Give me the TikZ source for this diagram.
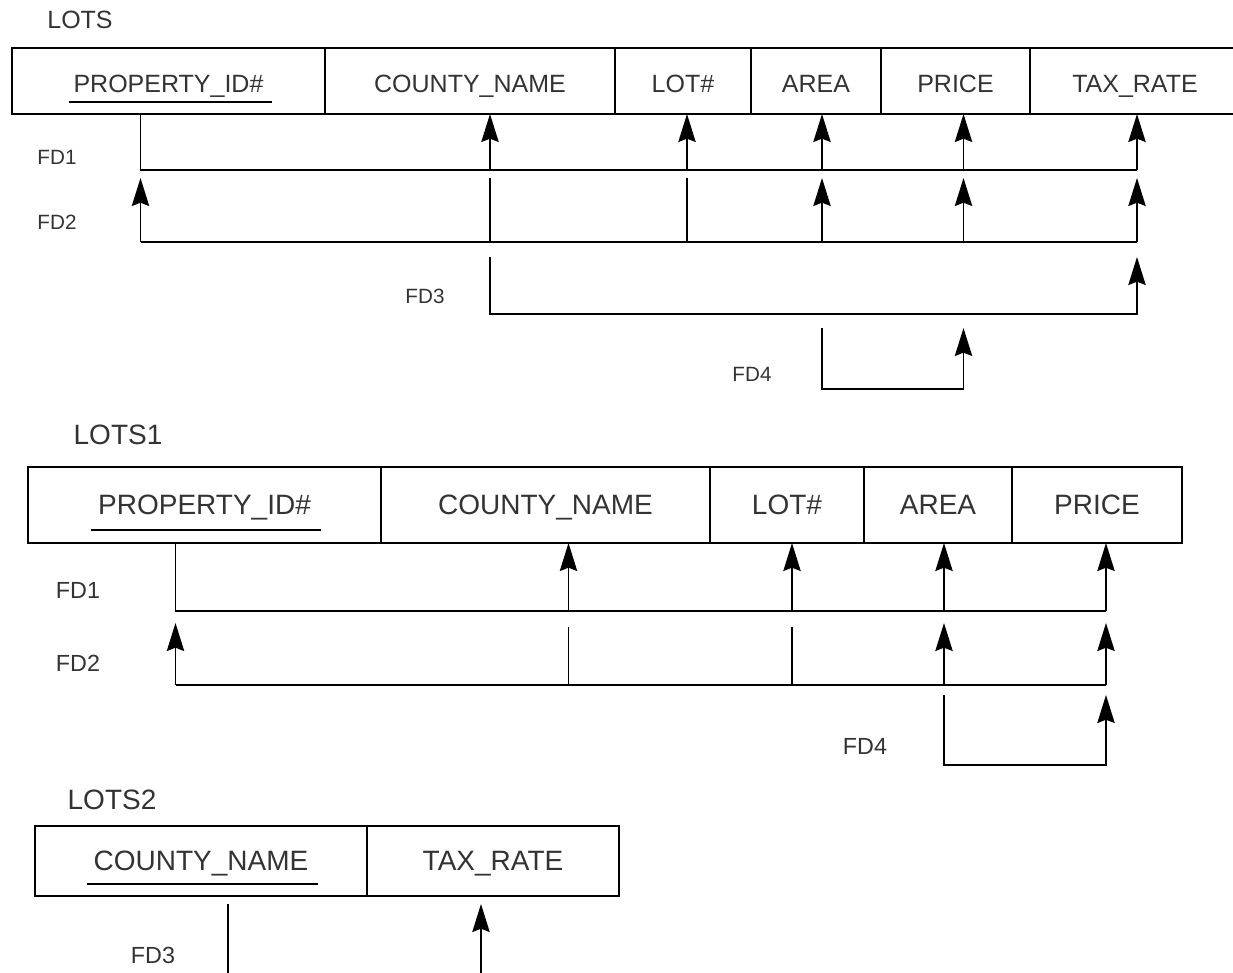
\documentclass[tikz,border=0pt]{standalone}
\usepackage{fontspec}
\setmainfont{Liberation Sans}
\usetikzlibrary{arrows.meta,positioning,calc}

\begin{document}
\begin{tikzpicture}[x=0.75pt,y=-0.75pt,line width=1.3pt,
  cell/.style={draw,inner sep=0pt,outer sep=0pt,text=black!80},
  rowa/.style={cell,minimum height=49.5pt,text height=18pt,text depth=0pt,font=\fontsize{18.75}{20}\selectfont},
  rowb/.style={cell,minimum height=57pt,text height=14.7pt,text depth=0pt,font=\fontsize{21}{24}\selectfont},
  rowc/.style={cell,minimum height=52.5pt,text height=14.7pt,text depth=0pt,font=\fontsize{21}{24}\selectfont},
  title/.style={text=black!80,inner sep=0pt},
  fdlab/.style={text=black!80,inner sep=0pt,font=\fontsize{15.5}{17}\selectfont},
  fdlabb/.style={text=black!80,inner sep=0pt,font=\fontsize{17.5}{19}\selectfont},
  dep/.style={-{Stealth[length=21pt,width=13pt,inset=2.5pt]}}]
\useasboundingbox (0,0) rectangle (1233,973);
% LOTS
\node[title,font=\fontsize{18.75}{20}\selectfont] (lots) at (80,20) {LOTS};
\node[rowa,minimum width=234.75pt,anchor=north west] (pid) at (12,48) {PROPERTY\_ID\#};
\node[rowa,minimum width=217.5pt,right=0pt of pid] (cname) {COUNTY\_NAME};
\node[rowa,minimum width=102pt,right=0pt of cname] (lot) {LOT\#};
\node[rowa,minimum width=97.5pt,right=0pt of lot] (area) {AREA};
\node[rowa,minimum width=111.75pt,right=0pt of area] (price) {PRICE};
\node[rowa,minimum width=157.5pt,right=0pt of price] (tax) {TAX\_RATE};
\draw ($(pid.center)+(-100,21)$) -- ++(203,0);
\foreach \n/\d in {pid/-28,cname/20,lot/4,area/6,price/8,tax/2}{\coordinate (\n-b) at ($(\n.south)+(\d,0)$);}
\coordinate (r1) at (0,170);\coordinate (r2t) at (0,178);\coordinate (r2) at (0,242);
\coordinate (r3t) at (0,257);\coordinate (r3) at (0,314);\coordinate (r4t) at (0,328);\coordinate (r4) at (0,389);
% FD1
\draw (pid-b) |- (tax-b |- r1);
\foreach \n in {cname,lot,area,price,tax}{\draw[dep] (\n-b |- r1) -- (\n-b);}
% FD2
\draw (pid-b |- r2) -- (tax-b |- r2);\draw[dep] (pid-b |- r2) -- (pid-b |- r2t);
\foreach \n in {cname,lot}{\draw (\n-b |- r2t) -- (\n-b |- r2);}
\foreach \n in {area,price,tax}{\draw[dep] (\n-b |- r2) -- (\n-b |- r2t);}
% FD3, FD4
\draw[dep] (cname-b |- r3t) |- (tax-b |- r3) -- (tax-b |- r3t);
\draw[dep] (area-b |- r4t) |- (price-b |- r4) -- (price-b |- r4t);
\node[fdlab] (fd1) at (57,157) {FD1};\node[fdlab] (fd2) at (57,222) {FD2};
\node[fdlab] (fd3) at (425,296) {FD3};\node[fdlab] (fd4) at (752,374) {FD4};
% LOTS1
\node[title,font=\fontsize{21}{24}\selectfont] (lots1) at (118,435) {LOTS1};
\node[rowb,minimum width=264.75pt,anchor=north west] (pid1) at (28,467) {PROPERTY\_ID\#};
\node[rowb,minimum width=246.75pt,right=0pt of pid1] (cname1) {COUNTY\_NAME};
\node[rowb,minimum width=115.5pt,right=0pt of cname1] (lot1) {LOT\#};
\node[rowb,minimum width=111pt,right=0pt of lot1] (area1) {AREA};
\node[rowb,minimum width=127.5pt,right=0pt of area1] (price1) {PRICE};
\draw ($(pid1.center)+(-114,25)$) -- ++(230,0);
\foreach \n/\d in {pid1/-29,cname1/23,lot1/5,area1/6,price1/9}{\coordinate (\n-b) at ($(\n.south)+(\d,0)$);}
\coordinate (s1) at (0,611);\coordinate (s2t) at (0,623);\coordinate (s2s) at (0,627);\coordinate (s2) at (0,685);
\coordinate (s4t) at (0,695);\coordinate (s4) at (0,765);
\draw (pid1-b) |- (price1-b |- s1);
\foreach \n in {cname1,lot1,area1,price1}{\draw[dep] (\n-b |- s1) -- (\n-b);}
\draw (pid1-b |- s2) -- (price1-b |- s2);\draw[dep] (pid1-b |- s2) -- (pid1-b |- s2t);
\foreach \n in {cname1,lot1}{\draw (\n-b |- s2s) -- (\n-b |- s2);}
\foreach \n in {area1,price1}{\draw[dep] (\n-b |- s2) -- (\n-b |- s2t);}
\draw[dep] (area1-b |- s4t) |- (price1-b |- s4) -- (price1-b |- s4t);
\node[fdlabb] (fd1b) at (78,590) {FD1};\node[fdlabb] (fd2b) at (78,663) {FD2};
\node[fdlabb] (fd4b) at (865,746) {FD4};
% LOTS2
\node[title,font=\fontsize{21}{24}\selectfont] (lots2) at (112,800) {LOTS2};
\node[rowc,minimum width=249pt,anchor=north west] (cname2) at (35,826) {COUNTY\_NAME};
\node[rowc,minimum width=189pt,right=0pt of cname2] (tax2) {TAX\_RATE};
\draw ($(cname2.center)+(-114,23)$) -- ++(231,0);
\foreach \n/\d in {cname2/27,tax2/-12}{\coordinate (\n-b) at ($(\n.south)+(\d,0)$);}
\coordinate (t1t) at (0,904);\coordinate (t1) at (0,990);
\draw (cname2-b |- t1t) -- (cname2-b |- t1);\draw[dep] (tax2-b |- t1) -- (tax2-b |- t1t);
\node[fdlabb] (fd3c) at (153,955) {FD3};
\end{tikzpicture}
\end{document}
